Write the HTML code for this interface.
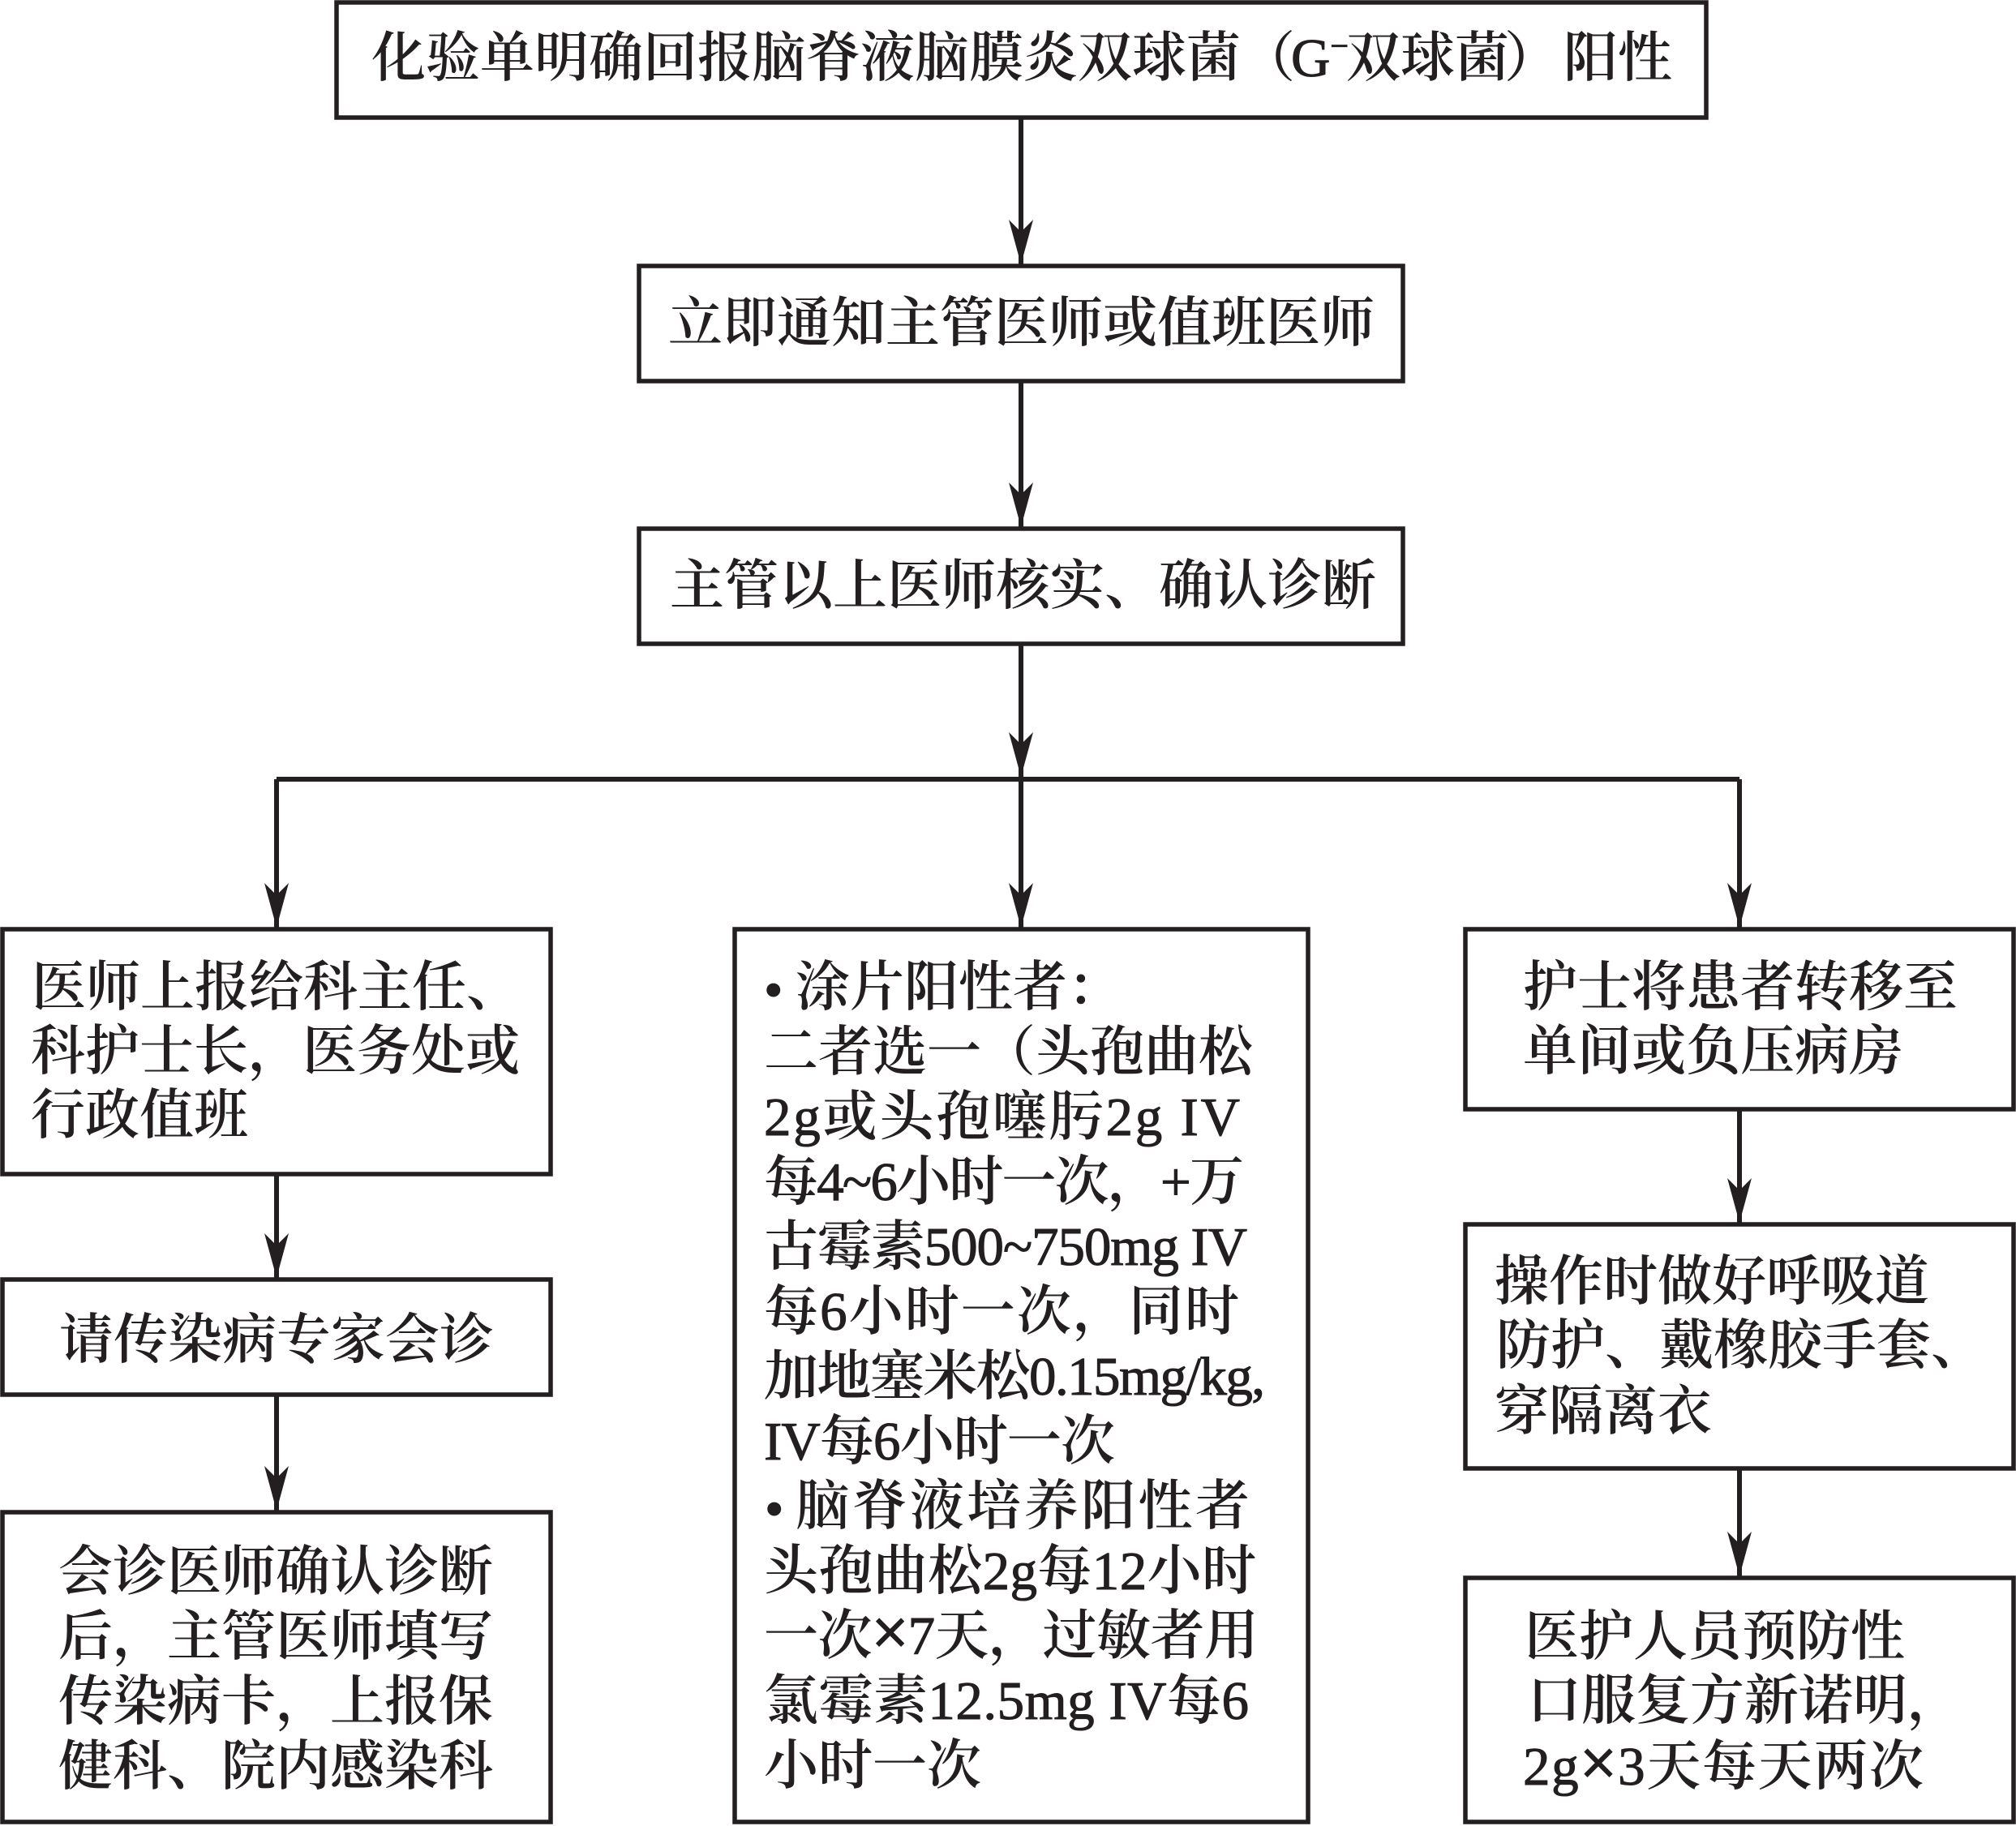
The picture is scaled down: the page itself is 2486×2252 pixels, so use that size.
<!DOCTYPE html>
<html lang="zh">
<head>
<meta charset="utf-8">
<style>
html,body{margin:0;padding:0;background:#fff;width:2486px;height:2252px;overflow:hidden}
svg{display:block}
text{font-family:"Liberation Serif","Noto Serif CJK SC",serif;font-size:67px;font-weight:600;fill:#231f20}
.l{font-weight:400;stroke:#231f20;stroke-width:1}
.x{font-weight:400;font-size:80px;stroke:#231f20;stroke-width:2}
rect{fill:#fff;stroke:#231f20;stroke-width:5.5}
line{stroke:#231f20;stroke-width:6}
polygon{fill:#231f20}
</style>
</head>
<body>
<svg width="2486" height="2252" viewBox="0 0 2486 2252" xmlns="http://www.w3.org/2000/svg">
<defs>
<marker id="a" markerUnits="userSpaceOnUse" markerWidth="32" markerHeight="58" refX="16" refY="55" orient="0" viewBox="0 0 32 58">
<polygon points="16,55 1,0 16,15 31,0"/>
</marker>
</defs>

<rect x="415" y="3" width="1689" height="142"/>
<rect x="788" y="328" width="942" height="142"/>
<rect x="788" y="652" width="942" height="142"/>
<rect x="3" y="1146" width="676" height="302"/>
<rect x="3" y="1578" width="676" height="142"/>
<rect x="3" y="1865" width="676" height="382"/>
<rect x="906" y="1146" width="707" height="1101"/>
<rect x="1807" y="1146" width="676" height="222"/>
<rect x="1807" y="1510" width="676" height="301"/>
<rect x="1807" y="1946" width="676" height="301"/>

<line x1="341" y1="961" x2="2145" y2="961"/>
<line x1="1259" y1="145" x2="1259" y2="326" marker-end="url(#a)"/>
<line x1="1259" y1="470" x2="1259" y2="650" marker-end="url(#a)"/>
<line x1="1259" y1="794" x2="1259" y2="958" marker-end="url(#a)"/>
<line x1="1259" y1="961" x2="1259" y2="1144" marker-end="url(#a)"/>
<line x1="341" y1="961" x2="341" y2="1144" marker-end="url(#a)"/>
<line x1="2145" y1="961" x2="2145" y2="1144" marker-end="url(#a)"/>
<line x1="341" y1="1448" x2="341" y2="1576" marker-end="url(#a)"/>
<line x1="341" y1="1720" x2="341" y2="1863" marker-end="url(#a)"/>
<line x1="2145" y1="1368" x2="2145" y2="1508" marker-end="url(#a)"/>
<line x1="2145" y1="1811" x2="2145" y2="1944" marker-end="url(#a)"/>

<text x="458" y="94">化验单明确回报脑脊液脑膜炎双球菌</text>
<text x="1530" y="94">（</text>
<text x="1592" y="94" class="l">G<tspan dy="-24" font-size="40">−</tspan></text>
<text x="1660" y="94">双球菌</text>
<text x="1855" y="94">）</text>
<text x="1928" y="94">阳性</text>

<g transform="translate(-2,-3)">
<text x="826" y="424">立即通知主管医师或值班医师</text>
<text x="828" y="748">主管以上医师核实、确认诊断</text>
</g>

<g transform="translate(-2,0)">
<text x="41" y="1240">医师上报给科主任、</text>
<text x="40" y="1319">科护士长，医务处或</text>
<text x="40" y="1398">行政值班</text>
<text x="75" y="1675">请传染病专家会诊</text>
<text x="74" y="1961">会诊医师确认诊断</text>
<text x="74" y="2041">后，主管医师填写</text>
<text x="74" y="2121">传染病卡，上报保</text>
<text x="74" y="2201">健科、院内感染科</text>

<text x="944" y="1243" class="l" font-size="72">•</text>
<text x="983" y="1240">涂片阳性者：</text>
<text x="944" y="1320">二者选一（头孢曲松</text>
<text x="944" y="1400" textLength="587"><tspan class="l">2g</tspan>或头孢噻肟<tspan class="l">2g IV</tspan></text>
<text x="944" y="1480" textLength="592">每<tspan class="l">4~6</tspan>小时一次，<tspan class="l">+</tspan>万</text>
<text x="944" y="1560" textLength="596">古霉素<tspan class="l">500~750mg IV</tspan></text>
<text x="944" y="1640" textLength="586">每<tspan class="l">6</tspan>小时一次，同时</text>
<text x="944" y="1720" textLength="618">加地塞米松<tspan class="l">0.15mg/kg,</tspan></text>
<text x="944" y="1800" textLength="433"><tspan class="l">IV</tspan>每<tspan class="l">6</tspan>小时一次</text>
<text x="945" y="1883" class="l" font-size="72">•</text>
<text x="983" y="1880" textLength="560">脑脊液培养阳性者</text>
<text x="944" y="1960" textLength="607">头孢曲松<tspan class="l">2g</tspan>每<tspan class="l">12</tspan>小时</text>
<text x="944" y="2040" textLength="610">一次<tspan class="x">×</tspan><tspan class="l">7</tspan>天，过敏者用</text>
<text x="944" y="2120" textLength="598">氯霉素<tspan class="l">12.5mg IV</tspan>每<tspan class="l">6</tspan></text>
<text x="944" y="2200">小时一次</text>

<text x="1880" y="1240">护士将患者转移至</text>
<text x="1880" y="1319">单间或负压病房</text>
<text x="1845" y="1603">操作时做好呼吸道</text>
<text x="1847" y="1682">防护、戴橡胶手套、</text>
<text x="1845" y="1763">穿隔离衣</text>
<text x="1882" y="2041">医护人员预防性</text>
<text x="1885" y="2120">口服复方新诺明，</text>
<text x="1880" y="2201" textLength="494"><tspan class="l">2g</tspan><tspan class="x">×</tspan><tspan class="l">3</tspan>天每天两次</text>
</g>
</svg>
</body>
</html>
